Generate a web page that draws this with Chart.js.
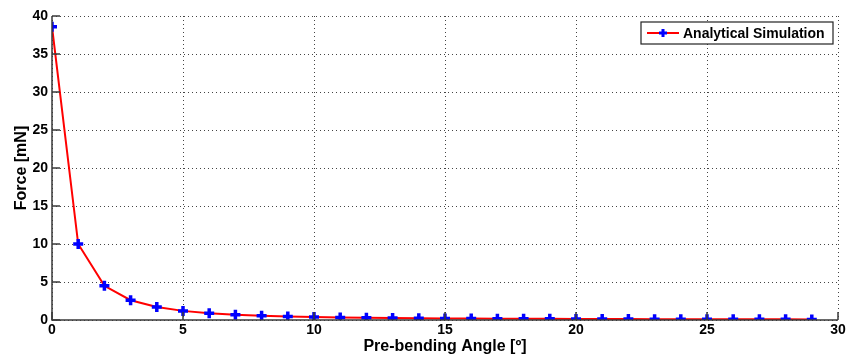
<!DOCTYPE html>
<html>
<head>
<meta charset="utf-8">
<script src="https://cdn.jsdelivr.net/npm/chart.js@4/dist/chart.umd.min.js"></script>
<style>
  html, body { margin: 0; padding: 0; background: #fff; }
  #wrap { width: 854px; height: 356px; }
</style>
</head>
<body>
<div id="wrap"><canvas id="chart" width="854" height="356"></canvas></div>
<script>
// pre-bending angle (degrees) and resulting force (mN)
const angles = [0, 1, 2, 3, 4, 5, 6, 7, 8, 9, 10, 11, 12, 13, 14, 15, 16, 17, 18, 19, 20, 21, 22, 23, 24, 25, 26, 27, 28, 29];
const forces = [38.6, 10.0, 4.5, 2.6, 1.7, 1.2, 0.9, 0.7, 0.55, 0.45, 0.38, 0.33, 0.29, 0.26, 0.23, 0.21, 0.19, 0.17, 0.16, 0.15, 0.14, 0.13, 0.12, 0.11, 0.11, 0.1, 0.1, 0.09, 0.09, 0.08];
const xTicks = [0, 5, 10, 15, 20, 25, 30];
const yTicks = [0, 5, 10, 15, 20, 25, 30, 35, 40];
const seriesName = 'Analytical Simulation';

const FONT = 'Liberation Sans, Arial, sans-serif';
const MARKER = { pointStyle: 'cross', radius: 5, borderWidth: 3.5 };

// MATLAB-style dotted grid, solid left/bottom axes with inward ticks, legend box
const axesPlugin = {
    id: 'matlabAxes',
    beforeDatasetsDraw(chart) {
        const ctx = chart.ctx;
        const area = chart.chartArea;
        const xs = chart.scales.x;
        const ys = chart.scales.y;
        ctx.save();
        ctx.strokeStyle = '#444';
        ctx.lineWidth = 1;
        ctx.setLineDash([1, 3]);
        ctx.beginPath();
        yTicks.forEach(v => {
            const py = Math.round(ys.getPixelForValue(v)) + 0.5;
            ctx.moveTo(area.left, py);
            ctx.lineTo(area.right, py);
        });
        xTicks.forEach(v => {
            const px = Math.round(xs.getPixelForValue(v)) + 0.5;
            ctx.moveTo(px, area.top);
            ctx.lineTo(px, area.bottom);
        });
        ctx.stroke();
        ctx.restore();
    },
    afterDraw(chart) {
        const ctx = chart.ctx;
        const area = chart.chartArea;
        const xs = chart.scales.x;
        const ys = chart.scales.y;
        ctx.save();
        ctx.strokeStyle = '#3a3a3a';
        ctx.lineWidth = 1.5;
        ctx.beginPath();
        ctx.moveTo(area.left, area.top);
        ctx.lineTo(area.left, area.bottom);
        ctx.lineTo(area.right, area.bottom);
        ctx.stroke();
        ctx.beginPath();
        yTicks.forEach(v => {
            const py = ys.getPixelForValue(v);
            ctx.moveTo(area.left, py);
            ctx.lineTo(area.left + 8, py);
        });
        xTicks.forEach(v => {
            const px = xs.getPixelForValue(v);
            ctx.moveTo(px, area.bottom);
            ctx.lineTo(px, area.bottom - 8);
        });
        ctx.stroke();

        // legend
        const lw = 192, lh = 22;
        const lx = area.right - 5 - lw, ly = area.top + 6;
        ctx.fillStyle = '#fff';
        ctx.fillRect(lx, ly, lw, lh);
        ctx.strokeStyle = '#222';
        ctx.lineWidth = 1.2;
        ctx.strokeRect(lx, ly, lw, lh);
        ctx.strokeStyle = '#ff0000';
        ctx.lineWidth = 2;
        ctx.beginPath();
        ctx.moveTo(lx + 6, ly + lh / 2);
        ctx.lineTo(lx + 38, ly + lh / 2);
        ctx.stroke();
        ctx.fillStyle = '#0000ff';
        ctx.strokeStyle = '#0000ff';
        ctx.lineWidth = 3;
        Chart.helpers.drawPoint(ctx, { pointStyle: MARKER.pointStyle, radius: 4, borderWidth: 3 }, lx + 22, ly + lh / 2);
        ctx.fillStyle = '#000';
        ctx.font = 'bold 14px ' + FONT;
        ctx.textBaseline = 'middle';
        ctx.textAlign = 'left';
        ctx.fillText(seriesName, lx + 42, ly + lh / 2 + 1);
        ctx.restore();
    }
};

const ctx = document.getElementById('chart').getContext('2d');
new Chart(ctx, {
    type: 'line',
    data: {
        datasets: [{
            label: seriesName,
            data: angles.map((a, i) => ({ x: a, y: forces[i] })),
            borderColor: '#ff0000',
            borderWidth: 2,
            tension: 0,
            pointStyle: MARKER.pointStyle,
            pointRadius: MARKER.radius,
            pointBorderWidth: MARKER.borderWidth,
            pointBorderColor: '#0000ff',
            pointBackgroundColor: '#0000ff'
        }]
    },
    options: {
        responsive: false,
        animation: false,
        layout: { padding: { top: 16, right: 16, left: 0, bottom: 0 } },
        plugins: {
            legend: { display: false },
            tooltip: { enabled: false }
        },
        scales: {
            x: {
                type: 'linear',
                min: 0,
                max: 30,
                afterBuildTicks: s => { s.ticks = xTicks.map(v => ({ value: v })); },
                afterFit: s => { s.height = 36; },
                grid: { color: 'rgba(0,0,0,0)', drawTicks: false },
                border: { display: false },
                ticks: {
                    color: '#000',
                    padding: 2,
                    maxRotation: 0,
                    font: { family: FONT, size: 14, weight: 'bold' }
                },
                title: {
                    display: true,
                    text: 'Pre-bending Angle [º]',
                    color: '#000',
                    padding: { top: -2, bottom: 0 },
                    font: { family: FONT, size: 16, weight: 'bold' }
                }
            },
            y: {
                type: 'linear',
                min: 0,
                max: 40,
                afterBuildTicks: s => { s.ticks = yTicks.map(v => ({ value: v })); },
                afterFit: s => { s.width = 52; },
                grid: { color: 'rgba(0,0,0,0)', drawTicks: false },
                border: { display: false },
                ticks: {
                    color: '#000',
                    padding: 4,
                    font: { family: FONT, size: 14, weight: 'bold' }
                },
                title: {
                    display: true,
                    text: 'Force [mN]',
                    color: '#000',
                    padding: { top: 12, bottom: 0 },
                    font: { family: FONT, size: 16, weight: 'bold' }
                }
            }
        }
    },
    plugins: [axesPlugin]
});
</script>
</body>
</html>
